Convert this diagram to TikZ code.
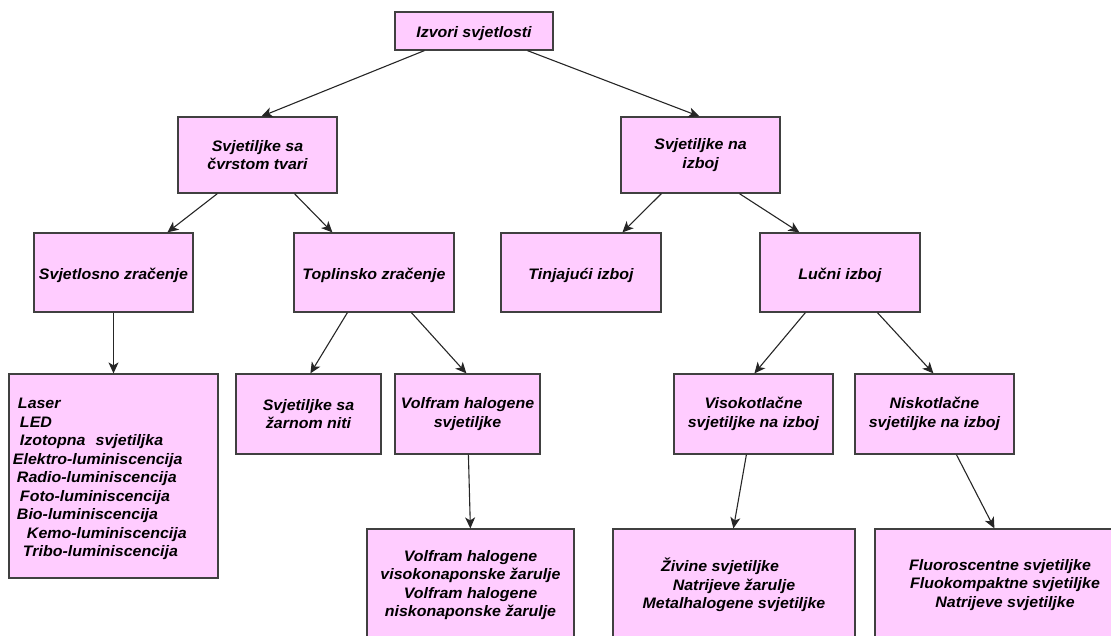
\documentclass[tikz,border=0pt]{standalone}
\usepackage{fontspec}
\setmainfont{Liberation Sans}[FakeStretch=1.05]
\usetikzlibrary{arrows.meta}
\definecolor{boxfill}{HTML}{FFCCFF}
\definecolor{boxline}{HTML}{404040}
\begin{document}
\begin{tikzpicture}[x=1pt,y=-1pt,
  box/.style={draw=boxline, fill=boxfill, line width=1.2pt, inner sep=0pt, align=center,
    font=\fontsize{15.2}{18.5}\selectfont\bfseries\itshape,
    execute at begin node={\rule{0pt}{17pt}}},
  arr/.style={draw=black!85, line width=1.1pt, -{Stealth[length=11pt,width=10pt,inset=3pt]}}]
\useasboundingbox (0,0) rectangle (1111,635);
\clip (0,0) rectangle (1111,635);
% level 0
\node[box, minimum width=158pt, minimum height=38pt] (root) at (474,31) {Izvori svjetlosti};
% level 1
\node[box, minimum width=159pt, minimum height=76pt] (cvrst) at (257.5,155) {Svjetiljke sa\\čvrstom tvari};
\node[box, minimum width=159pt, minimum height=76pt] (izboj) at (700.5,155) {Svjetiljke na\\izboj};
% level 2
\node[box, minimum width=159pt, minimum height=79pt] (svjet) at (113.5,272.5) {Svjetlosno zračenje};
\node[box, minimum width=160pt, minimum height=79pt] (topl) at (374,272.5) {Toplinsko zračenje};
\node[box, minimum width=160pt, minimum height=79pt] (tinj) at (581,272.5) {Tinjajući izboj};
\node[box, minimum width=160pt, minimum height=79pt] (lucni) at (840,272.5) {Lučni izboj};
% level 3
\node[box, minimum width=209pt, minimum height=204pt, text width=209pt, align=left] (laser) at (113.5,476)
  {\hspace*{9pt}Laser\\
   \hspace*{11pt}LED\\
   \hspace*{11pt}Izotopna\ \ svjetiljka\\
   \hspace*{4pt}Elektro-luminiscencija\\
   \hspace*{8pt}Radio-luminiscencija\\
   \hspace*{11pt}Foto-luminiscencija\\
   \hspace*{8pt}Bio-luminiscencija\\
   \hspace*{18pt}Kemo-luminiscencija\\
   \hspace*{14pt}Tribo-luminiscencija};
\node[box, minimum width=145pt, minimum height=80pt] (zarn) at (308.5,414) {Svjetiljke sa\\žarnom niti};
\node[box, minimum width=145pt, minimum height=80pt] (volf) at (467.5,414) {Volfram halogene\\svjetiljke};
\node[box, minimum width=159pt, minimum height=80pt] (visok) at (753.5,414) {Visokotlačne\\svjetiljke na izboj};
\node[box, minimum width=159pt, minimum height=80pt] (nisk) at (934.5,414) {Niskotlačne\\svjetiljke na izboj};
% level 4
\node[box, minimum width=207pt, minimum height=112pt] (zarul) at (470.5,585)
  {Volfram halogene\\visokonaponske žarulje\hspace*{20pt}\\Volfram halogene\\niskonaponske žarulje};
\node[box, minimum width=242pt, minimum height=112pt] (ziv) at (734,585)
  {Živine svjetiljke\hspace*{28pt}\\Natrijeve žarulje\\Metalhalogene svjetiljke};
\node[box, minimum width=260pt, minimum height=112pt] (fluo) at (1005,585)
  {Fluoroscentne svjetiljke\hspace*{10pt}\\Fluokompaktne svjetiljke\\Natrijeve svjetiljke};
% connectors
\draw[arr] ([xshift=30pt]root.south west) -- ([xshift=84pt]cvrst.north west);
\draw[arr] ([xshift=133pt]root.south west) -- ([xshift=79pt]izboj.north west);
\draw[arr] ([xshift=40pt]cvrst.south west) -- ([xshift=134pt]svjet.north west);
\draw[arr] ([xshift=117pt]cvrst.south west) -- ([xshift=39pt]topl.north west);
\draw[arr] ([xshift=41pt]izboj.south west) -- ([xshift=122pt]tinj.north west);
\draw[arr] ([xshift=119pt]izboj.south west) -- ([xshift=40pt]lucni.north west);
\draw[arr] (svjet.south) -- (laser.north);
\draw[arr] ([xshift=54pt]topl.south west) -- ([xshift=75pt]zarn.north west);
\draw[arr] ([xshift=118pt]topl.south west) -- ([xshift=72pt]volf.north west);
\draw[arr] ([xshift=46pt]lucni.south west) -- ([xshift=81pt]visok.north west);
\draw[arr] ([xshift=118pt]lucni.south west) -- ([xshift=79pt]nisk.north west);
\draw[arr] ([xshift=74pt]volf.south west) -- ([xshift=104pt]zarul.north west);
\draw[arr] ([xshift=73pt]visok.south west) -- ([xshift=121pt]ziv.north west);
\draw[arr] ([xshift=102pt]nisk.south west) -- ([xshift=120pt]fluo.north west);
\end{tikzpicture}
\end{document}
